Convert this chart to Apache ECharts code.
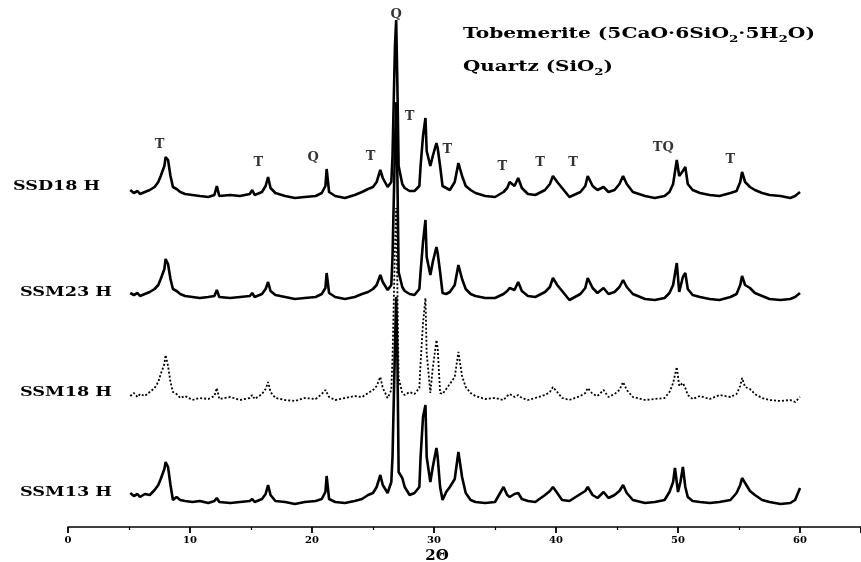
<!DOCTYPE html>
<html>
<head>
<meta charset="utf-8">
<script src="https://cdn.jsdelivr.net/npm/echarts@6/dist/echarts.min.js"></script>
<style>
  html, body { margin: 0; padding: 0; background: #fff; }
  #chart { width: 861px; height: 562px; }
</style>
</head>
<body>
<div id="chart"></div>
<script>
// sample names, top to bottom
const samples = ['SSD18 H', 'SSM23 H', 'SSM18 H', 'SSM13 H'];
// vertical shift of each trace (same units as intensity)
const offsets = [331, 230, 129, 30];

// [2θ, intensity]
const ssd18 = [
  [5.1, 6], [5.4, 3], [5.7, 5], [5.9, 2], [6.3, 4], [6.7, 6], [7.1, 9], [7.4, 14], [7.6, 20], [7.9, 30],
  [8.0, 39], [8.2, 36], [8.4, 20], [8.6, 9], [8.9, 7], [9.2, 4], [9.6, 2], [10.2, 1], [10.8, 0], [11.5, -1],
  [12.0, 1], [12.2, 10], [12.4, 0], [13.3, 1], [14.1, 0], [14.9, 2], [15.1, 6], [15.3, 1], [15.9, 4], [16.2, 10],
  [16.4, 19], [16.6, 8], [17.0, 3], [17.8, 0], [18.6, -2], [19.4, -1], [20.3, 0], [20.8, 3], [21.1, 10], [21.2, 27],
  [21.4, 4], [21.9, 0], [22.7, -2], [23.5, 1], [24.1, 4], [24.6, 7], [25.0, 9], [25.3, 14], [25.6, 26], [25.8, 18],
  [26.2, 9], [26.5, 14], [26.6, 40], [26.8, 150], [26.9, 176], [27.0, 110], [27.1, 30], [27.4, 12], [27.6, 8], [28.0, 5],
  [28.4, 5], [28.8, 10], [28.9, 30], [29.1, 60], [29.3, 78], [29.4, 45], [29.7, 30], [29.9, 40], [30.2, 53], [30.3, 48],
  [30.5, 30], [30.7, 10], [31.0, 8], [31.3, 6], [31.7, 14], [32.0, 33], [32.3, 20], [32.6, 10], [33.0, 6], [33.4, 3],
  [34.2, 0], [35.0, -1], [35.7, 4], [36.0, 8], [36.2, 14], [36.6, 10], [36.9, 18], [37.2, 8], [37.7, 2], [38.3, 1],
  [39.1, 6], [39.5, 12], [39.75, 20], [40.1, 14], [40.5, 8], [41.1, -1], [42.0, 4], [42.4, 10], [42.6, 20], [43.0, 10],
  [43.4, 6], [43.9, 9], [44.3, 4], [44.8, 6], [45.2, 12], [45.5, 20], [45.8, 12], [46.3, 4], [47.3, 0], [48.1, -2],
  [48.9, 0], [49.3, 4], [49.6, 12], [49.9, 36], [50.1, 20], [50.4, 25], [50.6, 29], [50.8, 12], [51.2, 6], [51.8, 3],
  [52.6, 1], [53.4, 0], [54.3, 3], [54.8, 5], [55.1, 14], [55.25, 24], [55.5, 14], [55.9, 9], [56.3, 6], [56.9, 3],
  [57.5, 1], [58.4, 0], [59.2, -2], [59.6, 0], [60.0, 4]
];
const ssm23 = [
  [5.1, 4], [5.4, 2], [5.7, 4], [5.9, 1], [6.3, 3], [6.7, 5], [7.1, 8], [7.4, 12], [7.6, 18], [7.9, 28],
  [8.0, 38], [8.2, 33], [8.4, 18], [8.6, 8], [8.9, 6], [9.2, 3], [9.6, 1], [10.2, 0], [10.8, -1], [11.5, 0],
  [12.0, 1], [12.2, 7], [12.4, 0], [13.3, -1], [14.1, 0], [14.9, 1], [15.1, 4], [15.3, 0], [15.9, 3], [16.2, 8],
  [16.4, 15], [16.6, 6], [17.0, 2], [17.8, 0], [18.6, -2], [19.4, -1], [20.3, 0], [20.8, 3], [21.1, 9], [21.2, 24],
  [21.4, 4], [21.9, 0], [22.7, -2], [23.5, 0], [24.1, 3], [24.6, 5], [25.0, 8], [25.3, 12], [25.6, 22], [25.8, 15],
  [26.2, 7], [26.5, 12], [26.6, 40], [26.8, 150], [26.9, 195], [27.0, 120], [27.1, 25], [27.4, 10], [27.6, 6], [28.0, 3],
  [28.4, 2], [28.8, 8], [28.9, 25], [29.1, 55], [29.3, 77], [29.4, 40], [29.7, 22], [29.9, 35], [30.2, 50], [30.3, 44],
  [30.5, 25], [30.7, 4], [31.0, 3], [31.3, 5], [31.7, 12], [32.0, 32], [32.3, 18], [32.6, 8], [33.0, 3], [33.4, 1],
  [34.2, -1], [35.0, -1], [35.7, 3], [36.0, 6], [36.2, 9], [36.6, 7], [36.9, 15], [37.2, 6], [37.7, 1], [38.3, 0],
  [39.1, 5], [39.5, 10], [39.75, 19], [40.1, 12], [40.5, 6], [41.1, -3], [42.0, 3], [42.4, 9], [42.6, 19], [43.0, 9],
  [43.4, 4], [43.9, 9], [44.3, 3], [44.8, 5], [45.2, 10], [45.5, 17], [45.8, 10], [46.3, 3], [47.3, -2], [48.1, -3],
  [48.9, -1], [49.3, 4], [49.6, 12], [49.9, 34], [50.1, 5], [50.4, 20], [50.6, 24], [50.8, 8], [51.2, 2], [51.8, 0],
  [52.6, -2], [53.4, -3], [54.3, 0], [54.8, 3], [55.1, 12], [55.25, 21], [55.5, 12], [55.9, 9], [56.3, 4], [56.9, 1],
  [57.5, -2], [58.4, -3], [59.2, -2], [59.6, 0], [60.0, 4]
];
const ssm18 = [
  [5.1, 2], [5.4, 5], [5.7, 1], [5.9, 4], [6.3, 2], [6.7, 6], [7.1, 10], [7.4, 16], [7.6, 24], [7.9, 34],
  [8.0, 43], [8.2, 32], [8.4, 16], [8.6, 6], [8.9, 4], [9.2, 0], [9.6, 2], [10.2, -2], [10.8, 0], [11.5, -1],
  [12.0, 2], [12.2, 10], [12.4, -1], [13.3, 1], [14.1, -2], [14.9, 0], [15.1, 3], [15.3, -1], [15.9, 4], [16.2, 9],
  [16.4, 16], [16.6, 6], [17.0, 0], [17.8, -2], [18.6, -3], [19.4, 0], [20.3, -1], [20.8, 4], [21.1, 8], [21.2, 6],
  [21.4, 1], [21.9, -2], [22.7, 0], [23.5, 2], [24.1, 1], [24.6, 5], [25.0, 8], [25.3, 12], [25.6, 21], [25.8, 10],
  [26.2, 0], [26.5, 8], [26.6, 40], [26.8, 150], [26.9, 190], [27.0, 110], [27.1, 20], [27.4, 5], [27.6, 3], [28.0, 6],
  [28.4, 4], [28.8, 10], [28.9, 35], [29.1, 75], [29.3, 100], [29.4, 45], [29.7, 5], [29.9, 30], [30.2, 58], [30.3, 50],
  [30.5, 5], [30.7, 4], [31.0, 9], [31.3, 14], [31.7, 21], [32.0, 46], [32.3, 22], [32.6, 11], [33.0, 5], [33.4, 2],
  [34.2, -1], [35.0, 0], [35.7, -2], [36.0, 2], [36.2, 4], [36.6, 1], [36.9, 3], [37.2, 0], [37.7, -2], [38.3, 0],
  [39.1, 3], [39.5, 6], [39.75, 11], [40.1, 6], [40.5, 0], [41.1, -2], [42.0, 2], [42.4, 5], [42.6, 10], [43.0, 4],
  [43.4, 2], [43.9, 8], [44.3, 1], [44.8, 4], [45.2, 8], [45.5, 16], [45.8, 8], [46.3, 1], [47.3, -2], [48.1, -1],
  [48.9, 0], [49.3, 6], [49.6, 15], [49.9, 31], [50.1, 12], [50.4, 15], [50.6, 10], [50.8, 3], [51.2, -1], [51.8, 2],
  [52.6, -1], [53.4, 3], [54.3, 1], [54.8, 4], [55.1, 12], [55.25, 20], [55.5, 11], [55.9, 9], [56.3, 4], [56.9, 0],
  [57.5, -2], [58.4, -3], [59.2, -2], [59.6, -4], [60.0, 1]
];
const ssm13 = [
  [5.1, 4], [5.4, 1], [5.7, 3], [5.9, 0], [6.3, 3], [6.7, 2], [7.1, 7], [7.4, 12], [7.6, 18], [7.9, 28],
  [8.0, 35], [8.2, 30], [8.4, 12], [8.6, -3], [8.9, 0], [9.2, -3], [9.6, -4], [10.2, -5], [10.8, -4], [11.5, -6],
  [12.0, -4], [12.2, -1], [12.4, -5], [13.3, -6], [14.1, -5], [14.9, -4], [15.1, -2], [15.3, -5], [15.9, -2], [16.2, 3],
  [16.4, 12], [16.6, 2], [17.0, -4], [17.8, -5], [18.6, -7], [19.4, -5], [20.3, -4], [20.8, -2], [21.1, 5], [21.2, 21],
  [21.4, -2], [21.9, -5], [22.7, -6], [23.5, -4], [24.1, -2], [24.6, 2], [25.0, 4], [25.3, 10], [25.6, 22], [25.8, 12],
  [26.2, 4], [26.5, 15], [26.6, 40], [26.8, 150], [26.9, 200], [27.0, 140], [27.1, 25], [27.4, 19], [27.6, 10], [28.0, 2],
  [28.4, 4], [28.8, 10], [28.9, 40], [29.1, 80], [29.3, 92], [29.4, 40], [29.7, 15], [29.9, 30], [30.2, 49], [30.3, 40],
  [30.5, 10], [30.7, -3], [31.0, 5], [31.3, 10], [31.7, 18], [32.0, 45], [32.3, 20], [32.6, 4], [33.0, -3], [33.4, -5],
  [34.2, -6], [35.0, -5], [35.7, 10], [36.0, 2], [36.2, 0], [36.6, 3], [36.9, 4], [37.2, -2], [37.7, -4], [38.3, -5],
  [39.1, 2], [39.5, 6], [39.75, 10], [40.1, 4], [40.5, -3], [41.1, -4], [42.0, 3], [42.4, 6], [42.6, 10], [43.0, 2],
  [43.4, -1], [43.9, 5], [44.3, -1], [44.8, 2], [45.2, 6], [45.5, 12], [45.8, 4], [46.3, -3], [47.3, -6], [48.1, -5],
  [48.9, -3], [49.3, 5], [49.6, 15], [49.75, 29], [50.0, 5], [50.2, 15], [50.4, 30], [50.6, 10], [50.8, 0], [51.2, -4],
  [51.8, -5], [52.6, -6], [53.4, -5], [54.3, -3], [54.8, 4], [55.1, 12], [55.25, 19], [55.5, 14], [55.9, 6], [56.3, 2],
  [56.9, -3], [57.5, -5], [58.4, -7], [59.2, -6], [59.6, -3], [60.0, 9]
];
const traces = [ssd18, ssm23, ssm18, ssm13];

// phase marks above the top trace: [2θ, height, letter]
const peakMarks = [
  [7.5, 382, 'T'], [15.6, 364, 'T'], [20.1, 369, 'Q'], [24.8, 370, 'T'], [26.9, 512, 'Q'],
  [28.0, 410, 'T'], [31.1, 377, 'T'], [35.6, 360, 'T'], [38.7, 364, 'T'], [41.4, 364, 'T'],
  [48.8, 379, 'TQ'], [54.3, 367, 'T']
];

const xTicks = [0, 10, 20, 30, 40, 50, 60];
// legend lines as [text, isSubscript] pieces
const legendTobermorite = [['Tobemerite (5CaO·6SiO', 0], ['2', 1], ['·5H', 0], ['2', 1], ['O)', 0]];
const legendQuartz = [['Quartz (SiO', 0], ['2', 1], [')', 0]];

const serif = '"DejaVu Serif", "Liberation Serif", serif';
const chart = echarts.init(document.getElementById('chart'), null, { renderer: 'canvas' });

const measureCtx = document.createElement('canvas').getContext('2d');
function textWidth(text, font) {
  measureCtx.font = font;
  return measureCtx.measureText(text).width;
}

// stretch text horizontally so it spans the width seen in the picture
function stretchedText(text, font, left, top, width) {
  return {
    type: 'text',
    x: left,
    y: top,
    scaleX: width / textWidth(text, font),
    style: { text, font, fill: '#000', textVerticalAlign: 'middle' },
  };
}

function formulaText(pieces, left, top, width) {
  const big = 'bold 15px ' + serif;
  const small = 'bold 10px ' + serif;
  const w = pieces.reduce((acc, [t, s]) => acc + textWidth(t, s ? small : big), 0);
  return {
    type: 'text',
    x: left,
    y: top,
    scaleX: width / w,
    style: {
      text: pieces.map(([t, s]) => `{${s ? 's' : 'a'}|${t}}`).join(''),
      textVerticalAlign: 'middle',
      rich: {
        a: { fontFamily: serif, fontWeight: 'bold', fontSize: 15, lineHeight: 20, verticalAlign: 'middle', fill: '#000' },
        s: { fontFamily: serif, fontWeight: 'bold', fontSize: 10, lineHeight: 10, verticalAlign: 'bottom', fill: '#000' },
      },
    },
  };
}

const lineSeries = traces.map((pts, i) => ({
  name: samples[i],
  type: 'line',
  data: pts.map(([t, v]) => [t, v + offsets[i]]),
  showSymbol: false,
  clip: false,
  lineStyle: i === 2
    ? { color: '#000', width: 1.8, type: [2, 2] }
    : { color: '#000', width: 2.6 },
  z: 3,
}));

const option = {
  animation: false,
  backgroundColor: '#fff',
  grid: { left: 68, right: 0, top: 0, bottom: 35 },
  xAxis: {
    type: 'value',
    min: 0,
    max: 65,
    interval: 10,
    axisLine: { lineStyle: { color: '#000', width: 1.5 } },
    axisTick: { length: 6, lineStyle: { color: '#000', width: 1.8 } },
    minorTick: { show: true, splitNumber: 2, length: 3, lineStyle: { color: '#000', width: 1.2 } },
    splitLine: { show: false },
    axisLabel: {
      margin: 8,
      fontFamily: serif,
      fontWeight: 'bold',
      fontSize: 10,
      color: '#000',
      showMaxLabel: false,
      formatter: (v) => (xTicks.includes(v) ? String(v) : ''),
    },
  },
  yAxis: { type: 'value', min: 0, max: 527, show: false },
  series: [
    ...lineSeries,
    {
      type: 'scatter',
      data: peakMarks.map(([t, v, s]) => ({ value: [t, v], name: s })),
      symbolSize: 0,
      label: {
        show: true,
        position: 'inside',
        formatter: (p) => p.name,
        fontFamily: serif,
        fontWeight: 'bold',
        fontSize: 13,
        color: '#000',
      },
      z: 5,
    },
  ],
  graphic: [
    ...samples.map((s, i) =>
      stretchedText(s, 'bold 12px ' + serif, i === 0 ? 13 : 20, [187, 293, 393, 493][i], i === 0 ? 87 : 92)
    ),
    formulaText(legendTobermorite, 463, 34, 352),
    formulaText(legendQuartz, 463, 67, 150),
    {
      type: 'text',
      x: 437,
      y: 556,
      style: { text: '2Θ', font: 'bold 15px ' + serif, fill: '#000', textAlign: 'center', textVerticalAlign: 'middle' },
    },
  ],
};

chart.setOption(option);
</script>
</body>
</html>
